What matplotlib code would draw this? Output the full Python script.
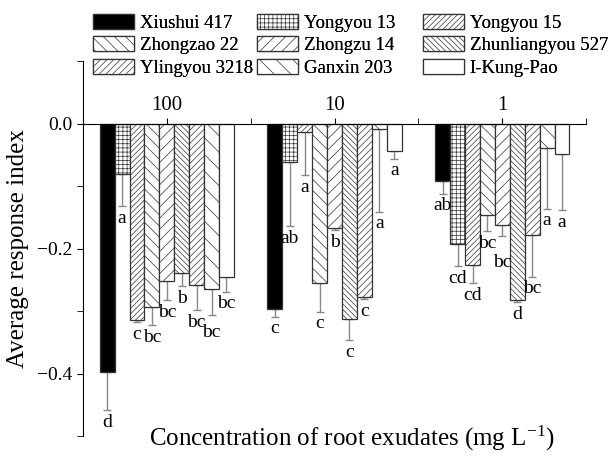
import numpy as np
import matplotlib
matplotlib.use('Agg')
import matplotlib.pyplot as plt

plt.rcParams['font.family'] = 'Liberation Serif'
plt.rcParams['mathtext.default'] = 'regular'
plt.rcParams['hatch.linewidth'] = 0.5
plt.rcParams['hatch.color'] = '#666666'

groups = ['100', '10', '1']
cultivars = ['Xiushui 417', 'Yongyou 13', 'Yongyou 15', 'Zhongzao 22', 'Zhongzu 14',
             'Zhunliangyou 527', 'Ylingyou 3218', 'Ganxin 203', 'I-Kung-Pao']

# mean response index per cultivar, one row per concentration
means = [
    [-0.397, -0.080, -0.315, -0.293, -0.252, -0.239, -0.258, -0.265, -0.246],
    [-0.297, -0.061, -0.013, -0.255, -0.167, -0.312, -0.278, -0.009, -0.044],
    [-0.092, -0.193, -0.227, -0.147, -0.163, -0.283, -0.178, -0.039, -0.048],
]
# lower end of the error bars
err_ends = [
    [-0.458, -0.132, -0.318, -0.323, -0.283, -0.260, -0.299, -0.307, -0.269],
    [-0.309, -0.164, -0.083, -0.301, -0.170, -0.347, -0.281, -0.141, -0.056],
    [-0.112, -0.228, -0.255, -0.172, -0.180, -0.286, -0.245, -0.136, -0.138],
]
letters = [
    ['d', 'a', 'c', 'bc', 'bc', 'b', 'bc', 'bc', 'bc'],
    ['c', 'ab', 'a', 'c', 'b', 'c', 'c', 'a', 'a'],
    ['ab', 'cd', 'cd', 'bc', 'bc', 'd', 'bc', 'a', 'a'],
]

colors = ['black', 'white', 'white', 'white', 'white', 'white', 'white', 'white', 'white']
hatches = [None, '++++', '//////', '\\\\\\', '///', '\\\\\\\\\\\\', '/////', '\\\\', None]

fig = plt.figure(figsize=(6.1, 4.59), dpi=100)
ax = fig.add_axes([0.136, 0.050, 0.825, 0.817])

# letters that sit a little lower in the original to avoid a neighbour
nudge = {(2, 4): -0.022, (0, 7): -0.008}

w = 0.0889
handles = []
for i, name in enumerate(cultivars):
    xs = np.arange(1, 4) + (i - 4) * w
    vals = np.array([means[g][i] for g in range(3)])
    ends = np.array([err_ends[g][i] for g in range(3)])
    b = ax.bar(xs, vals, width=w, color=colors[i], edgecolor='#333333',
               linewidth=0.9, hatch=hatches[i], label=name, zorder=2)
    handles.append(b)
    ax.errorbar(xs, vals, yerr=[vals - ends, np.zeros(3)], fmt='none',
                ecolor='#888888', elinewidth=1, capsize=3, capthick=1, zorder=1)
    for g in range(3):
        dy = nudge.get((g, i), 0)
        ax.text(xs[g], ends[g] - 0.006 + dy, letters[g][i], ha='center', va='top',
                fontsize=14)

ax.set_xlim(0.5, 3.5)
ax.set_ylim(-0.5, 0.1)

ax.spines['right'].set_visible(False)
ax.spines['bottom'].set_visible(False)
ax.spines['top'].set_position(('data', 0))
ax.xaxis.set_ticks_position('top')
ax.set_xticks([1, 2, 3])
ax.set_xticklabels(groups, fontsize=15)
ax.set_xticks([1.5, 2.5, 3.5], minor=True)
ax.tick_params(axis='x', which='both', direction='out', length=4, pad=2)

ax.set_yticks([0.0, -0.2, -0.4])
ax.set_yticklabels(['0.0', '\u22120.2', '\u22120.4'], fontsize=14)
ax.set_yticks([0.1, -0.1, -0.3, -0.5], minor=True)
ax.tick_params(axis='y', which='both', direction='out', length=4)

ax.set_ylabel('Average response index', fontsize=18, labelpad=6)
fig.text(0.576, 0.012, 'Concentration of root exudates (mg L$^{-1}$)',
         ha='center', va='bottom', fontsize=18)

# legend: three columns, each read top to bottom, rows match the original
col_x = [0.152, 0.421, 0.693]
for c in range(3):
    hs = [handles[c + 3 * r] for r in range(3)]
    lg = fig.legend(handles=hs, loc='upper left', bbox_to_anchor=(col_x[c], 0.970),
                    frameon=False, fontsize=13.5, handlelength=2.2,
                    handleheight=0.85, handletextpad=0.3, labelspacing=0.25,
                    borderpad=0, borderaxespad=0)
    fig.add_artist(lg)

fig.savefig('out.png', dpi=100)
